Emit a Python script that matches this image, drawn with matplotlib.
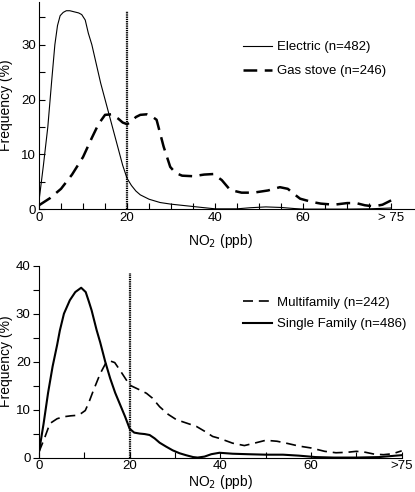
import numpy as np
import matplotlib
matplotlib.use("Agg")
import matplotlib.pyplot as plt

plt.rcParams['font.family'] = ['Liberation Sans', 'DejaVu Sans']

# top panel: stove type
elec_x = [0, 1, 2, 2.9, 3.6, 4.2, 4.8, 5.5, 6.2, 7, 8, 9, 9.7, 10.5, 11.2, 12, 13, 14, 15, 16, 17, 18, 19, 20,
          21, 22, 23, 25, 27.5, 30, 33.5, 37, 40, 45, 48, 51.5, 55, 58, 60, 65, 70, 75, 80]
elec_y = [1.5, 8, 15, 23.6, 30, 33.5, 35.3, 35.9, 36.2, 36.2, 36.0, 35.8, 35.5, 34.5, 32.1, 30, 26.5, 23, 20, 17,
          14, 11, 8, 5.6, 4.3, 3.3, 2.6, 1.8, 1.2, 0.9, 0.6, 0.3, 0.05, 0.05, 0.25, 0.4, 0.3, 0.1, 0, 0, 0, 0.05, 0.2]

gas_x = [0, 2.5, 5, 7.5, 10, 12, 13.5, 15, 16.5, 18, 19, 20, 21, 22, 23, 24.5, 25.5, 26.7, 28.3, 29.8, 31, 32.5,
         35, 37.5, 39.6, 41.5, 43.4, 46, 48.7, 52, 54.7, 56.5, 58, 59.3, 62, 64, 67, 70, 72, 74, 76, 78, 80]
gas_y = [0.7, 2, 3.7, 6.3, 9.5, 13, 15.5, 17.2, 17.3, 16.5, 15.8, 15.5, 16, 16.8, 17.2, 17.3, 17, 16.3, 11.4, 7.7,
         6.6, 6.1, 6, 6.3, 6.4, 5.3, 3.5, 3, 3, 3.4, 4, 3.7, 2.7, 1.9, 1.3, 1.0, 0.8, 1.1, 1.1, 0.7, 0.5, 0.8, 1.6]

# bottom panel: housing type
single_x = [0, 1, 2, 3, 4, 4.6, 5.5, 6.8, 8, 9.3, 10.3, 11, 11.6, 12.7, 13.5, 14.6, 15.7, 16.8, 17.9, 19, 20, 21,
            22.2, 23.3, 24.4, 25.5, 26.6, 28, 29.5, 31, 32.4, 34, 35, 36.5, 38, 39.8, 42.7, 46, 50, 53.8, 57.3,
            61, 65, 70, 75, 80]
single_y = [1.2, 7, 13.5, 19, 23.5, 26.5, 30, 32.8, 34.5, 35.4, 34.5, 32.5, 30.7, 26.6, 24, 20, 16.5, 13.5, 11,
            8.5, 6, 5.2, 5, 4.9, 4.7, 4, 3.1, 2.3, 1.5, 0.9, 0.5, 0.1, 0, 0.2, 0.7, 1, 0.8, 0.7, 0.6, 0.6, 0.4,
            0.1, 0, 0, 0.1, 0.5]

multi_x = [0, 1.2, 2.4, 4, 5.4, 7, 8.3, 9.3, 10.2, 11, 12, 13.5, 14.9, 15.8, 16.7, 18, 20, 22, 23.7, 25, 26.6,
           28.5, 30.3, 32.5, 34.7, 36.5, 38.3, 39.8, 42.7, 45.3, 47.5, 50, 52.5, 55, 57.3, 60, 63, 65.5, 68, 70,
           72, 74, 76, 78, 80]
multi_y = [1.2, 4, 7.1, 8.1, 8.5, 8.7, 8.8, 9.2, 9.8, 11.5, 14, 17.5, 20, 20.1, 19.8, 18, 15.1, 14.2, 13.4, 12.4,
           10.6, 9, 7.9, 7.2, 6.5, 5.5, 4.4, 4, 3, 2.5, 3, 3.6, 3.4, 2.9, 2.4, 2, 1.3, 1, 1.1, 1.3, 1.1, 0.7,
           0.6, 0.8, 1.4]

xticks = [0, 20, 40, 60, 80]
top_xlabels = ['0', '20', '40', '60', '> 75']
bot_xlabels = ['0', '20', '40', '60', '>75']
cutoff = 20

fs = 9.5
fig = plt.figure(figsize=(4.15, 4.92), dpi=100)

# ---- top ----
ax1 = fig.add_axes([0.094, 0.575, 0.904, 0.421])
ax1.plot(elec_x, elec_y, color='black', lw=0.8, label='Electric (n=482)')
ax1.plot(gas_x, gas_y, color='black', lw=1.8, dashes=(5.5, 3), label='Gas stove (n=246)')
ax1.vlines(cutoff, 0, 36.2, color='black', lw=1.6, linestyles=[(0, (0.6, 0.4))])
ax1.set_xlim(0, 85.2)
ax1.set_ylim(0, 37.8)
ax1.set_xticks(xticks)
ax1.set_xticklabels(top_xlabels)
ax1.set_xticks(np.arange(5, 80, 5), minor=True)
ax1.set_yticks([0, 10, 20, 30])
ax1.set_yticks([5, 15, 25, 35], minor=True)
ax1.tick_params(which='both', direction='in', length=4, width=0.8, labelsize=fs, pad=2)
ax1.set_xlabel('NO$_2$ (ppb)', fontsize=fs + 0.5)
ax1.set_ylabel('Frequency (%)', fontsize=fs + 0.5)
ax1.xaxis.set_label_coords(0.483, -0.112)
ax1.yaxis.set_label_coords(-0.069, 0.5)
ax1.legend(loc='upper left', bbox_to_anchor=(0.556, 0.941), bbox_transform=fig.transFigure,
           frameon=False, fontsize=fs, handlelength=2.2, handletextpad=0.4, labelspacing=0.9)

# ---- bottom ----
ax2 = fig.add_axes([0.094, 0.070, 0.874, 0.390])
ax2.plot(multi_x, multi_y, color='black', lw=1.2, dashes=(6, 3.5), label='Multifamily (n=242)')
ax2.plot(single_x, single_y, color='black', lw=1.5, label='Single Family (n=486)')
ax2.vlines(cutoff, 0, 38.4, color='black', lw=1.6, linestyles=[(0, (0.6, 0.4))])
ax2.set_xlim(0, 80)
ax2.set_ylim(0, 40)
ax2.set_xticks(xticks)
ax2.set_xticklabels(bot_xlabels)
ax2.set_xticks([10, 30, 50, 70], minor=True)
ax2.set_yticks([0, 10, 20, 30, 40])
ax2.set_yticks([5, 15, 25, 35], minor=True)
ax2.tick_params(axis='x', which='both', direction='in', length=4, width=0.8, labelsize=fs, pad=2)
ax2.tick_params(axis='y', which='both', direction='out', length=4, width=0.8, labelsize=fs, pad=2)
ax2.set_xlabel('NO$_2$ (ppb)', fontsize=fs + 0.5)
ax2.set_ylabel('Frequency (%)', fontsize=fs + 0.5)
ax2.xaxis.set_label_coords(0.499, -0.082)
ax2.yaxis.set_label_coords(-0.072, 0.5)
ax2.legend(loc='upper left', bbox_to_anchor=(0.556, 0.421), bbox_transform=fig.transFigure,
           frameon=False, fontsize=fs, handlelength=2.2, handletextpad=0.4, labelspacing=0.7)

for ax in (ax1, ax2):
    ax.spines['top'].set_visible(False)
    ax.spines['right'].set_visible(False)
    ax.spines['left'].set_linewidth(0.8)
    ax.spines['bottom'].set_linewidth(0.8)

fig.savefig('out.png', dpi=100)
